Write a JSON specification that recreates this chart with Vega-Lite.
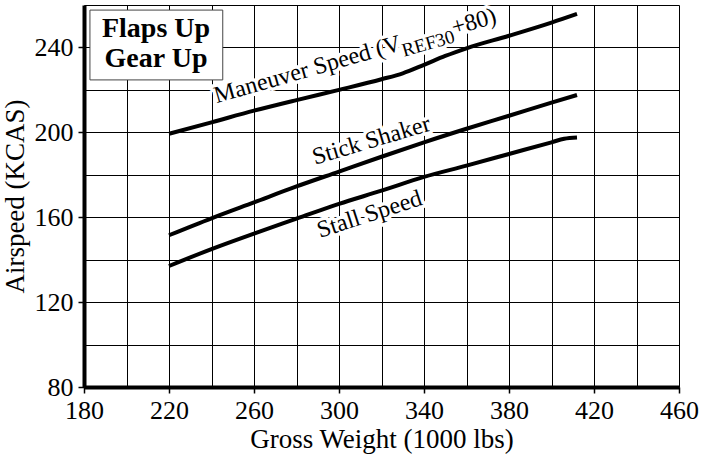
{
  "$schema": "https://vega.github.io/schema/vega-lite/v6.json",
  "width": 595,
  "height": 382,
  "autosize": {"type": "none"},
  "padding": {"left": 84, "top": 5, "right": 24, "bottom": 69},
  "background": "white",
  "config": {
    "view": {"stroke": null},
    "axis": {
      "grid": true,
      "gridColor": "black",
      "gridOpacity": 1,
      "gridWidth": 1,
      "domainColor": "black",
      "domainWidth": 4,
      "tickColor": "black",
      "tickWidth": 1.5,
      "labelFont": "Times New Roman",
      "labelFontSize": 26,
      "labelColor": "black",
      "labelFlush": false,
      "labelOverlap": false,
      "labelBound": false,
      "titleFont": "Times New Roman",
      "titleFontSize": 27,
      "titleFontWeight": "normal",
      "titleColor": "black"
    }
  },
  "datasets": {
    "curves": [
      {"series": "Maneuver", "w": 220, "v": 199.3},
      {"series": "Maneuver", "w": 240, "v": 204.7},
      {"series": "Maneuver", "w": 260, "v": 210.2},
      {"series": "Maneuver", "w": 280, "v": 215.2},
      {"series": "Maneuver", "w": 300, "v": 220.0},
      {"series": "Maneuver", "w": 320, "v": 225.0},
      {"series": "Maneuver", "w": 330, "v": 227.8},
      {"series": "Maneuver", "w": 340, "v": 231.8},
      {"series": "Maneuver", "w": 350, "v": 236.0},
      {"series": "Maneuver", "w": 360, "v": 239.6},
      {"series": "Maneuver", "w": 380, "v": 245.5},
      {"series": "Maneuver", "w": 400, "v": 251.7},
      {"series": "Maneuver", "w": 412, "v": 255.8},
      {"series": "Stick Shaker", "w": 220, "v": 151.5},
      {"series": "Stick Shaker", "w": 240, "v": 159.5},
      {"series": "Stick Shaker", "w": 260, "v": 167.0},
      {"series": "Stick Shaker", "w": 280, "v": 174.5},
      {"series": "Stick Shaker", "w": 300, "v": 181.5},
      {"series": "Stick Shaker", "w": 320, "v": 188.5},
      {"series": "Stick Shaker", "w": 340, "v": 195.3},
      {"series": "Stick Shaker", "w": 360, "v": 201.7},
      {"series": "Stick Shaker", "w": 380, "v": 207.8},
      {"series": "Stick Shaker", "w": 400, "v": 214.0},
      {"series": "Stick Shaker", "w": 412, "v": 217.6},
      {"series": "Stall", "w": 220, "v": 137.0},
      {"series": "Stall", "w": 240, "v": 145.0},
      {"series": "Stall", "w": 260, "v": 152.3},
      {"series": "Stall", "w": 280, "v": 159.3},
      {"series": "Stall", "w": 300, "v": 166.3},
      {"series": "Stall", "w": 320, "v": 172.5},
      {"series": "Stall", "w": 340, "v": 179.0},
      {"series": "Stall", "w": 360, "v": 184.3},
      {"series": "Stall", "w": 380, "v": 189.8},
      {"series": "Stall", "w": 400, "v": 195.3},
      {"series": "Stall", "w": 406, "v": 197.0},
      {"series": "Stall", "w": 412, "v": 197.6}
    ],
    "labels": [
      {"name": "man", "w": 242.4, "v": 213.7, "text": "Maneuver Speed (V"},
      {"name": "sub", "w": 242.4, "v": 213.7, "text": "REF30"},
      {"name": "plus", "w": 242.4, "v": 213.7, "text": "+80)"},
      {"name": "stick", "w": 288.7, "v": 184.7, "text": "Stick Shaker"},
      {"name": "stall", "w": 291.1, "v": 150.2, "text": "Stall Speed"}
    ],
    "box": [
      {"w": 182.8, "w2": 245.3, "v": 257.6, "v2": 224.7}
    ],
    "boxText": [
      {"w": 213.9, "v": 245.1, "text": "Flaps Up"},
      {"w": 213.9, "v": 231.0, "text": "Gear Up"}
    ]
  },
  "encoding": {
    "x": {
      "field": "w",
      "type": "quantitative",
      "scale": {"domain": [180, 460], "nice": false, "zero": false},
      "axis": {
        "title": "Gross Weight (1000 lbs)",
        "values": [180, 200, 220, 240, 260, 280, 300, 320, 340, 360, 380, 400, 420, 440, 460],
        "labelExpr": "datum.value % 40 == 20 ? datum.label : ''",
        "tickSize": 6,
        "tickOpacity": {"condition": {"test": "datum.value % 40 == 20", "value": 1}, "value": 0},
        "labelPadding": 4,
        "titlePadding": 3
      }
    },
    "y": {
      "field": "v",
      "type": "quantitative",
      "scale": {"domain": [80, 260], "nice": false, "zero": false},
      "axis": {
        "title": "Airspeed (KCAS)",
        "values": [80, 100, 120, 140, 160, 180, 200, 220, 240, 260],
        "labelExpr": "datum.value % 40 == 0 ? datum.label : ''",
        "tickSize": 6,
        "tickOpacity": {"condition": {"test": "datum.value % 40 == 0", "value": 1}, "value": 0},
        "labelPadding": 5,
        "titlePadding": 5
      }
    }
  },
  "layer": [
    {
      "data": {"name": "box"},
      "mark": {"type": "rect", "fill": "white", "stroke": "#444444", "strokeWidth": 1},
      "encoding": {"x2": {"field": "w2"}, "y2": {"field": "v2"}}
    },
    {
      "data": {"name": "boxText"},
      "mark": {"type": "text", "font": "Times New Roman", "fontSize": 28, "fontWeight": "bold", "align": "center", "baseline": "alphabetic", "color": "black"},
      "encoding": {"text": {"field": "text"}}
    },
    {
      "data": {"name": "labels"},
      "transform": [{"filter": "datum.name == 'man'"}],
      "mark": {"type": "text", "font": "Times New Roman", "fontSize": 24, "angle": -16, "align": "left", "baseline": "alphabetic", "fill": "white", "stroke": "white", "strokeWidth": 7, "strokeJoin": "round"},
      "encoding": {"text": {"field": "text"}}
    },
    {
      "data": {"name": "labels"},
      "transform": [{"filter": "datum.name == 'sub'"}],
      "mark": {"type": "text", "font": "Times New Roman", "fontSize": 19, "angle": -16, "dx": 193, "dy": 7, "align": "left", "baseline": "alphabetic", "fill": "white", "stroke": "white", "strokeWidth": 7, "strokeJoin": "round"},
      "encoding": {"text": {"field": "text"}}
    },
    {
      "data": {"name": "labels"},
      "transform": [{"filter": "datum.name == 'plus'"}],
      "mark": {"type": "text", "font": "Times New Roman", "fontSize": 24, "angle": -16, "dx": 247, "align": "left", "baseline": "alphabetic", "fill": "white", "stroke": "white", "strokeWidth": 7, "strokeJoin": "round"},
      "encoding": {"text": {"field": "text"}}
    },
    {
      "data": {"name": "labels"},
      "transform": [{"filter": "datum.name == 'stick'"}],
      "mark": {"type": "text", "font": "Times New Roman", "fontSize": 24, "angle": -16.5, "align": "left", "baseline": "alphabetic", "fill": "white", "stroke": "white", "strokeWidth": 7, "strokeJoin": "round"},
      "encoding": {"text": {"field": "text"}}
    },
    {
      "data": {"name": "labels"},
      "transform": [{"filter": "datum.name == 'stall'"}],
      "mark": {"type": "text", "font": "Times New Roman", "fontSize": 24, "angle": -18, "align": "left", "baseline": "alphabetic", "fill": "white", "stroke": "white", "strokeWidth": 7, "strokeJoin": "round"},
      "encoding": {"text": {"field": "text"}}
    },
    {
      "data": {"name": "curves"},
      "mark": {"type": "line", "color": "black", "strokeWidth": 4, "strokeCap": "butt", "strokeJoin": "round", "interpolate": "monotone"},
      "encoding": {"detail": {"field": "series"}}
    },
    {
      "data": {"name": "labels"},
      "transform": [{"filter": "datum.name == 'man'"}],
      "mark": {"type": "text", "font": "Times New Roman", "fontSize": 24, "angle": -16, "align": "left", "baseline": "alphabetic", "color": "black"},
      "encoding": {"text": {"field": "text"}}
    },
    {
      "data": {"name": "labels"},
      "transform": [{"filter": "datum.name == 'sub'"}],
      "mark": {"type": "text", "font": "Times New Roman", "fontSize": 19, "angle": -16, "dx": 193, "dy": 7, "align": "left", "baseline": "alphabetic", "color": "black"},
      "encoding": {"text": {"field": "text"}}
    },
    {
      "data": {"name": "labels"},
      "transform": [{"filter": "datum.name == 'plus'"}],
      "mark": {"type": "text", "font": "Times New Roman", "fontSize": 24, "angle": -16, "dx": 247, "align": "left", "baseline": "alphabetic", "color": "black"},
      "encoding": {"text": {"field": "text"}}
    },
    {
      "data": {"name": "labels"},
      "transform": [{"filter": "datum.name == 'stick'"}],
      "mark": {"type": "text", "font": "Times New Roman", "fontSize": 24, "angle": -16.5, "align": "left", "baseline": "alphabetic", "color": "black"},
      "encoding": {"text": {"field": "text"}}
    },
    {
      "data": {"name": "labels"},
      "transform": [{"filter": "datum.name == 'stall'"}],
      "mark": {"type": "text", "font": "Times New Roman", "fontSize": 24, "angle": -18, "align": "left", "baseline": "alphabetic", "color": "black"},
      "encoding": {"text": {"field": "text"}}
    }
  ]
}
